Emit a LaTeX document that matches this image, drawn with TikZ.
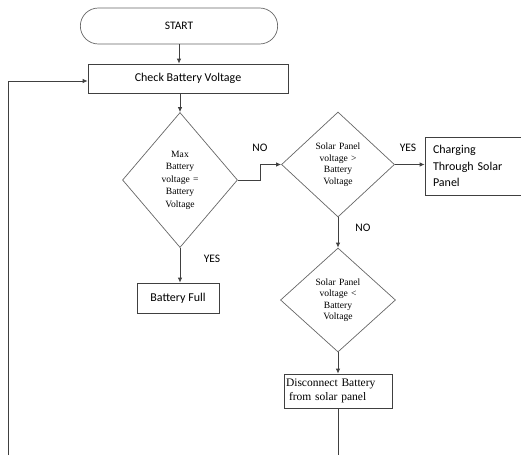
\documentclass[tikz,border=0pt]{standalone}
\usepackage{fontspec}
\setmainfont{Liberation Serif}
\newfontfamily\calfont{Carlito}
\usetikzlibrary{shapes.geometric,shapes.misc,arrows.meta}
\begin{document}
\begin{tikzpicture}[x=1pt,y=-1pt,
  line width=0.7pt,
  every node/.style={draw=none, text=black},
  box/.style={draw=black!75, line width=0.8pt, rectangle, inner sep=2pt},
  dia/.style={draw=black!60, line width=0.7pt, diamond, inner sep=0pt, text width=56pt, align=center,
      font=\fontsize{9.6}{12.5}\selectfont},
  lab/.style={font=\calfont\fontsize{11.5}{12}\selectfont},
  conn/.style={draw=black!75, line width=0.8pt},
  arr/.style={conn, -{Latex[length=5pt,width=4.5pt]}}
]
\useasboundingbox (0,0) rectangle (521,455);
\node[draw=black!60, line width=0.7pt, rounded rectangle, minimum width=204pt, minimum height=36pt,
  font=\calfont\fontsize{11.5}{12}\selectfont] (start) at (179,26) {START};
\node[box, minimum width=200pt, minimum height=29pt, font=\calfont\fontsize{12}{12}\selectfont]
  (check) at (188,78.5) {Check Battery Voltage};
\node[dia, minimum width=115pt, minimum height=135pt] (d1) at (180,180)
  {Max\\Battery\\voltage =\\Battery\\Voltage};
\node[dia, minimum width=113pt, minimum height=105pt, font=\fontsize{9.6}{11.5}\selectfont] (d2) at (338,164.5)
  {Solar Panel\\voltage >\\Battery\\Voltage};
\node[dia, minimum width=115pt, minimum height=104pt, font=\fontsize{9.6}{11.5}\selectfont] (d3) at (338,300)
  {Solar Panel\\voltage <\\Battery\\Voltage};
\node[box, minimum width=82pt, minimum height=30pt, font=\calfont\fontsize{12}{12}\selectfont]
  (full) at (178,298) {Battery Full};
\node[box, minimum width=99pt, minimum height=58pt, inner xsep=8pt, text width=83pt, align=left,
  font=\calfont\fontsize{12}{16.5}\selectfont] (charge) at (474.5,166) {Charging\\Through Solar\\Panel};
\node[box, minimum width=108pt, minimum height=34pt, inner xsep=2pt, text width=104pt, align=left,
  font=\fontsize{11.5}{14}\selectfont] (disc) at (338,391) {Disconnect Battery\\\hspace*{3pt}from solar panel};
\coordinate (lb) at (8,455);
\coordinate (db) at (338,455);
% connectors
\draw[arr] (start.south) -- (start.south |- check.north);
\draw[arr] (d1.north |- check.south) -- (d1.north);
\draw[arr] (lb) |- ([yshift=-2.5pt]check.west);
\draw[arr] (d1.east) -- ++(23,0) |- (d2.west);
\draw[arr] (d1.south) -- (d1.south |- full.north);
\draw[arr] (d2.east) -- (charge.west |- d2.east);
\draw[arr] (d2.south) -- (d3.north);
\draw[arr] (d3.south) -- (d3.south |- disc.north);
\draw[conn] (disc.south) -- (disc.south |- db);
% labels
\node[lab] (no1) at (260,148) {NO};
\node[lab] (yes1) at (408,148) {YES};
\node[lab] (no2) at (363,228) {NO};
\node[lab] (yes2) at (212,259) {YES};
\end{tikzpicture}
\end{document}
